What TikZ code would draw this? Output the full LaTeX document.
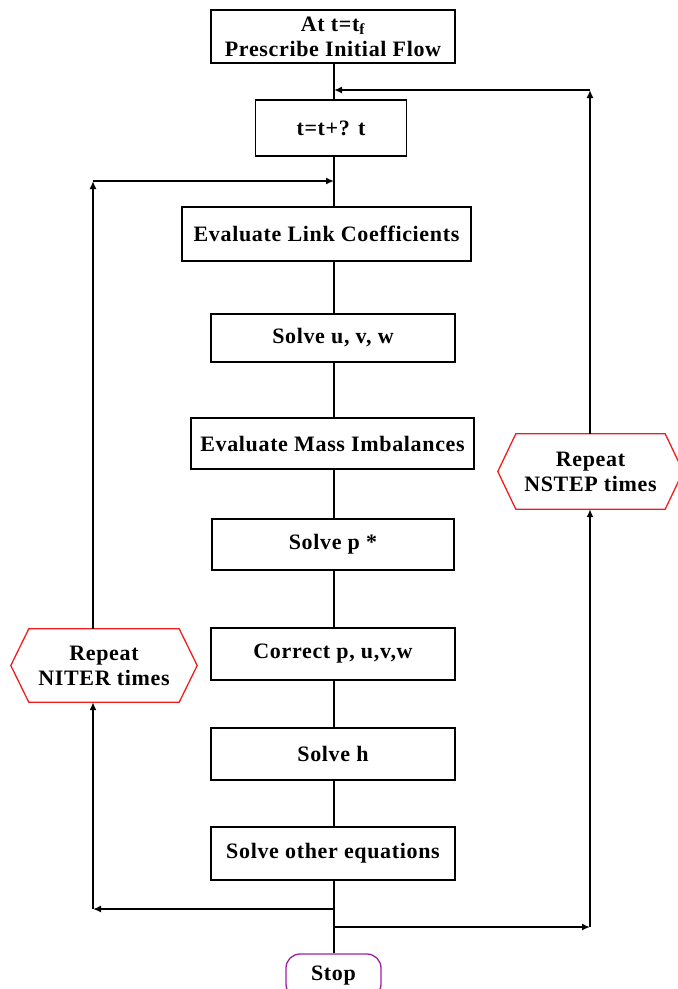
\documentclass[tikz,border=0pt]{standalone}
\usepackage{fontspec}
\setmainfont{Liberation Serif}
\newfontfamily\diagfont[LetterSpace=3]{Liberation Serif}
\usetikzlibrary{arrows.meta}
\definecolor{hexred}{RGB}{240,30,30}
\definecolor{stoppurple}{RGB}{160,30,160}
\begin{document}
\begin{tikzpicture}[x=1pt,y=-1pt,
  font=\diagfont\fontsize{22}{25}\selectfont\bfseries,
  procbox/.style={draw, line width=1.6pt, inner sep=0pt, align=center},
  hexlabel/.style={inner sep=0pt, align=center},
  hexline/.style={draw=hexred, line width=1.3pt},
  flow/.style={draw, line width=1.6pt},
  flowarrow/.style={draw, line width=1.6pt, -{Latex[length=8pt,width=7pt]}},
  stopnode/.style={draw=stoppurple, line width=1.3pt, rounded corners=14pt, minimum width=95pt, minimum height=44pt, inner sep=0pt}]
\useasboundingbox (0,0) rectangle (678,989);
\clip (0,0) rectangle (678,989);
% process boxes
\node[procbox, minimum width=244pt, minimum height=53pt] (b1) at (333,36.5) {At t=t\textsubscript{f}\\Prescribe Initial Flow};
\node[procbox, minimum width=151pt, minimum height=56pt] (b2) at (331,128) {t=t+? t};
\node[procbox, minimum width=289pt, minimum height=54pt] (b3) at (326.5,234) {Evaluate Link Coefficients};
\node[procbox, minimum width=244pt, minimum height=48pt] (b4) at (333,338) {Solve u, v, w};
\node[procbox, minimum width=283pt, minimum height=51pt] (b5) at (332.5,443.5) {Evaluate Mass Imbalances};
\node[procbox, minimum width=242pt, minimum height=51pt] (b6) at (333,544.5) {Solve p *};
\node[procbox, minimum width=244pt, minimum height=52pt] (b7) at (333,654) {Correct p, u,v,w};
\node[procbox, minimum width=244pt, minimum height=52pt] (b8) at (333,754) {Solve h};
\node[procbox, minimum width=244pt, minimum height=53pt] (b9) at (333,853.5) {Solve other equations};
% stop
\node[stopnode] (stop) at (333.5,976) {Stop};
% hexagons
\node[hexlabel, minimum width=150pt, minimum height=73pt] (rn) at (104,665.5) {Repeat\\NITER times};
\draw[hexline] (rn.north west) -- (rn.north east) -- ([xshift=18pt]rn.east) -- (rn.south east) -- (rn.south west) -- ([xshift=-18pt]rn.west) -- cycle;
\node[hexlabel, minimum width=149pt, minimum height=75pt] (rs) at (590.5,471.5) {Repeat\\NSTEP times};
\draw[hexline] (rs.north west) -- (rs.north east) -- ([xshift=18pt]rs.east) -- (rs.south east) -- (rs.south west) -- ([xshift=-18pt]rs.west) -- cycle;
% junction coordinates
\coordinate (jL) at (334,909);
\coordinate (jR) at (334,927);
\coordinate (cLB) at (93,909);
\coordinate (cLT) at (93,181);
\coordinate (mLT) at (334,181);
\coordinate (cRB) at (590,927);
\coordinate (cRT) at (590,90);
\coordinate (mRT) at (334,90);
% main flow
\draw[flow] (b1.south -| jL) -- (b2.north -| jL);
\draw[flow] (b2.south -| jL) -- (b3.north -| jL);
\draw[flow] (b3.south -| jL) -- (b4.north -| jL);
\draw[flow] (b4.south -| jL) -- (b5.north -| jL);
\draw[flow] (b5.south -| jL) -- (b6.north -| jL);
\draw[flow] (b6.south -| jL) -- (b7.north -| jL);
\draw[flow] (b7.south -| jL) -- (b8.north -| jL);
\draw[flow] (b8.south -| jL) -- (b9.north -| jL);
\draw[flow] (b9.south -| jL) -- (stop.north -| jL);
% NITER loop
\draw[flowarrow] (jL) -- (cLB);
\draw[flowarrow] (cLB) -- (cLB |- rn.south);
\draw[flowarrow] (cLB |- rn.north) -- (cLT);
\draw[flowarrow] (cLT) -- (mLT);
% NSTEP loop
\draw[flowarrow] (jR) -- (cRB);
\draw[flowarrow] (cRB) -- (cRB |- rs.south);
\draw[flowarrow] (cRB |- rs.north) -- (cRT);
\draw[flowarrow] (cRT) -- (mRT);
\end{tikzpicture}
\end{document}
